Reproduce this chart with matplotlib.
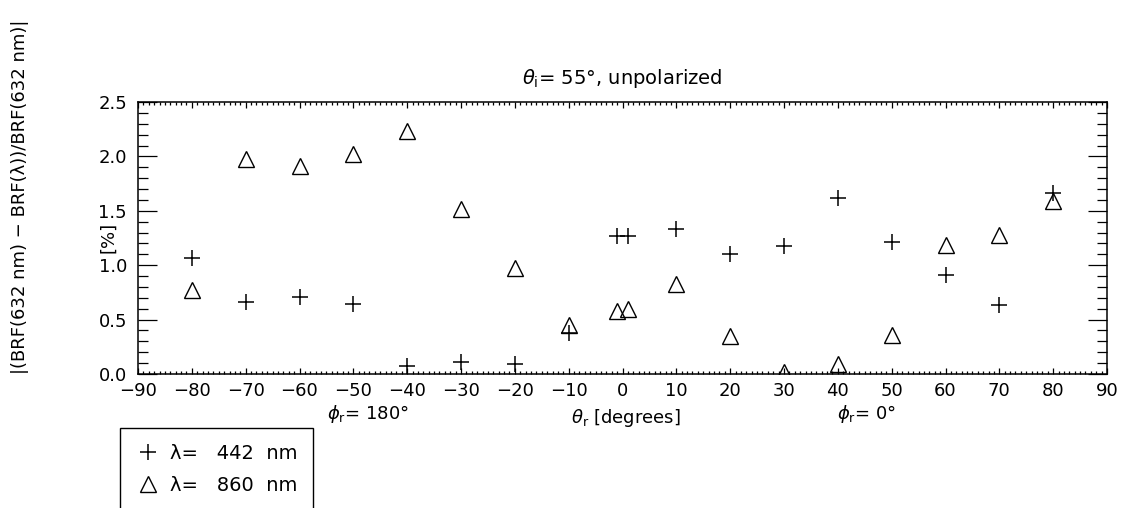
import matplotlib

matplotlib.use("Agg")
import matplotlib.pyplot as plt  # noqa: E402
from matplotlib.ticker import MultipleLocator  # noqa: E402

# viewing zenith angle theta_r [deg] (negative side = phi_r 180 deg)
theta_r = [-80, -70, -60, -50, -40, -30, -20, -10, -1, 1, 10, 20, 30, 40, 50, 60, 70, 80]

# relative BRF difference vs 632 nm [%]
diff_442 = [1.07, 0.66, 0.71, 0.64, 0.07, 0.11, 0.09, 0.38, 1.27, 1.27,
            1.33, 1.10, 1.18, 1.62, 1.21, 0.91, 0.63, 1.66]
diff_860 = [0.77, 1.98, 1.91, 2.02, 2.23, 1.52, 0.97, 0.45, 0.58, 0.60,
            0.83, 0.35, 0.02, 0.09, 0.36, 1.19, 1.28, 1.59]

W, H = 1132, 508
FS = 13


def fx(px):
    return px / W


def fy(py):
    return 1 - py / H


plt.rcParams["font.family"] = "DejaVu Sans"
plt.rcParams["mathtext.fontset"] = "dejavusans"

fig = plt.figure(figsize=(W / 100, H / 100), dpi=100)
ax = fig.add_axes([fx(138), fy(374), fx(1107) - fx(138), fy(102) - fy(374)])

h442, = ax.plot(theta_r, diff_442, ls="none", marker="+", ms=12, mew=1.1,
                color="black", label="λ=   442  nm")
h860, = ax.plot(theta_r, diff_860, ls="none", marker="^", ms=12, mew=1.0,
                mfc="none", mec="black", label="λ=   860  nm")

ax.set_xlim(-90, 90)
ax.set_ylim(0, 2.5)
ax.xaxis.set_major_locator(MultipleLocator(10))
ax.xaxis.set_minor_locator(MultipleLocator(1))
ax.yaxis.set_major_locator(MultipleLocator(0.5))
ax.yaxis.set_minor_locator(MultipleLocator(0.1))
ax.yaxis.set_major_formatter(matplotlib.ticker.FormatStrFormatter("%.1f"))
ax.tick_params(axis="both", which="both", direction="in", top=True, right=True,
               labelsize=FS, color="black", width=0.9)
ax.tick_params(axis="x", which="major", length=4, pad=6)
ax.tick_params(axis="x", which="minor", length=2)
ax.tick_params(axis="y", which="major", length=14, pad=8)
ax.tick_params(axis="y", which="minor", length=7)
for sp in ax.spines.values():
    sp.set_linewidth(1.1)

ax.set_title(r"$\theta_{\mathrm{i}}$= 55°, unpolarized", fontsize=FS + 1, pad=13)

fig.text(fx(626), fy(418), r"$\theta_{\mathrm{r}}$ [degrees]", ha="center", va="center", fontsize=FS)
fig.text(fx(368), fy(414), r"$\phi_{\mathrm{r}}$= 180°", ha="center", va="center", fontsize=FS)
fig.text(fx(867), fy(414), r"$\phi_{\mathrm{r}}$= 0°", ha="center", va="center", fontsize=FS)
fig.text(fx(108), fy(237), "[%]", ha="center", va="center", rotation=90, fontsize=FS)
fig.text(fx(20), fy(197), "|(BRF(632 nm) − BRF(λ))/BRF(632 nm)|", ha="center", va="center",
         rotation=90, fontsize=FS)

leg = ax.legend(handles=[h442, h860], loc="upper left",
                bbox_to_anchor=(fx(120), fy(428)), bbox_transform=fig.transFigure,
                frameon=True, fancybox=False, framealpha=1, edgecolor="black",
                fontsize=FS + 1, borderpad=0.8, handlelength=1.3, handletextpad=0.45,
                labelspacing=0.7, borderaxespad=0)
leg.get_frame().set_linewidth(1.0)

fig.savefig("out.png", dpi=100)
